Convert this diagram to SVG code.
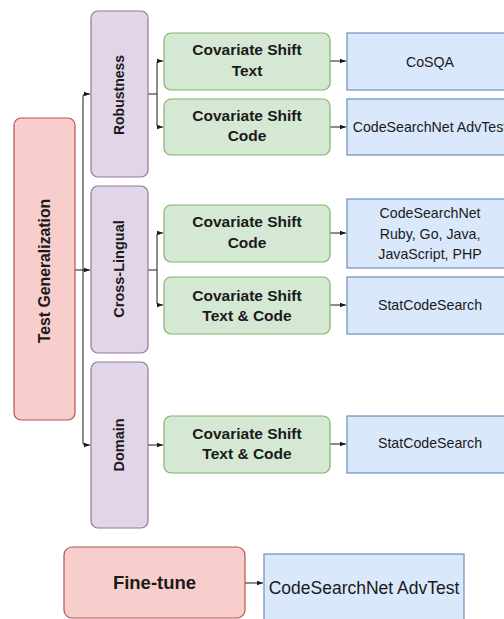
<svg xmlns="http://www.w3.org/2000/svg" width="504" height="619" viewBox="0 0 504 619">
<style>
text{font-family:"Liberation Sans",Arial,sans-serif;fill:#1a1a1a;text-anchor:middle}
.b{font-weight:bold;font-size:15.5px}
.v{font-weight:bold;font-size:14.5px}
.r{font-size:14.2px}
.red{fill:#f8cecc;stroke:#b85450;stroke-width:1.2}
.pur{fill:#e1d5e7;stroke:#9673a6;stroke-width:1.2}
.grn{fill:#d5e8d4;stroke:#82b366;stroke-width:1.2}
.blu{fill:#dae8fc;stroke:#6c8ebf;stroke-width:1.2}
.c{fill:none;stroke:#1a1a1a;stroke-width:1}
</style>
<defs>
<marker id="ah" viewBox="0 0 6 6" refX="6" refY="3" markerWidth="6" markerHeight="6" markerUnits="userSpaceOnUse" orient="auto">
<path d="M0,0.8 L6,3 L0,5.2 Z" fill="#1a1a1a"/>
</marker>
</defs>
<rect width="504" height="619" fill="#ffffff"/>
<g id="connectors">
<path class="c" d="M75,270 H90" marker-end="url(#ah)"/>
<path class="c" d="M83,270 V96 Q83,94 85,94 H90" marker-end="url(#ah)"/>
<path class="c" d="M83,270 V443 Q83,445 85,445 H90" marker-end="url(#ah)"/>
<path class="c" d="M148,94 H157"/>
<path class="c" d="M157,94 V63 Q157,61 159,61 H163" marker-end="url(#ah)"/>
<path class="c" d="M157,94 V125 Q157,127 159,127 H163" marker-end="url(#ah)"/>
<path class="c" d="M148,270 H157"/>
<path class="c" d="M157,270 V235 Q157,233 159,233 H163" marker-end="url(#ah)"/>
<path class="c" d="M157,270 V303 Q157,305 159,305 H163" marker-end="url(#ah)"/>
<path class="c" d="M148,445 H163" marker-end="url(#ah)"/>
<path class="c" d="M330,61 H346" marker-end="url(#ah)"/>
<path class="c" d="M330,127 H346" marker-end="url(#ah)"/>
<path class="c" d="M330,233 H346" marker-end="url(#ah)"/>
<path class="c" d="M330,305 H346" marker-end="url(#ah)"/>
<path class="c" d="M330,444 H346" marker-end="url(#ah)"/>
<path class="c" d="M245,583 H263" marker-end="url(#ah)"/>
</g>
<g id="test-generalization">
<rect class="red" x="14" y="118" width="61" height="302" rx="7"/>
<text class="v" transform="translate(49.5,271) rotate(-90)" style="font-size:15.8px">Test Generalization</text>
</g>
<g id="robustness">
<rect class="pur" x="91" y="11" width="57" height="166" rx="7"/>
<text class="v" transform="translate(124,95) rotate(-90)" style="font-size:14px">Robustness</text>
</g>
<g id="cross-lingual">
<rect class="pur" x="91" y="186" width="57" height="167" rx="7"/>
<text class="v" transform="translate(124,269) rotate(-90)">Cross-Lingual</text>
</g>
<g id="domain">
<rect class="pur" x="91" y="362" width="57" height="166" rx="7"/>
<text class="v" transform="translate(124,445) rotate(-90)">Domain</text>
</g>
<g id="cs-text">
<rect class="grn" x="164" y="33" width="166" height="57" rx="7"/>
<text class="b" x="247" y="55">Covariate Shift</text>
<text class="b" x="247" y="76">Text</text>
</g>
<g id="cs-code-1">
<rect class="grn" x="164" y="99" width="166" height="56" rx="7"/>
<text class="b" x="247" y="121">Covariate Shift</text>
<text class="b" x="247" y="141">Code</text>
</g>
<g id="cs-code-2">
<rect class="grn" x="164" y="205" width="166" height="57" rx="7"/>
<text class="b" x="247" y="227">Covariate Shift</text>
<text class="b" x="247" y="248">Code</text>
</g>
<g id="cs-textcode-1">
<rect class="grn" x="164" y="277" width="166" height="57" rx="7"/>
<text class="b" x="247" y="301">Covariate Shift</text>
<text class="b" x="247" y="321">Text &amp; Code</text>
</g>
<g id="cs-textcode-2">
<rect class="grn" x="164" y="416" width="166" height="57" rx="7"/>
<text class="b" x="247" y="439">Covariate Shift</text>
<text class="b" x="247" y="459">Text &amp; Code</text>
</g>
<g id="cosqa">
<rect class="blu" x="347" y="33" width="166" height="57"/>
<text class="r" x="430" y="67">CoSQA</text>
</g>
<g id="csn-advtest-1">
<rect class="blu" x="347" y="99" width="166" height="56"/>
<text class="r" x="430" y="132">CodeSearchNet AdvTest</text>
</g>
<g id="csn-langs">
<rect class="blu" x="347" y="199" width="166" height="69"/>
<text class="r" x="430" y="218">CodeSearchNet</text>
<text class="r" x="430" y="239">Ruby, Go, Java,</text>
<text class="r" x="430" y="259">JavaScript, PHP</text>
</g>
<g id="statcodesearch-1">
<rect class="blu" x="347" y="277" width="166" height="57"/>
<text class="r" x="430" y="310">StatCodeSearch</text>
</g>
<g id="statcodesearch-2">
<rect class="blu" x="347" y="416" width="166" height="57"/>
<text class="r" x="430" y="448">StatCodeSearch</text>
</g>
<g id="fine-tune">
<rect class="red" x="64" y="547" width="181" height="71" rx="8"/>
<text class="b" x="154.5" y="589" style="font-size:18.5px">Fine-tune</text>
</g>
<g id="csn-advtest-2">
<rect class="blu" x="264" y="554" width="200" height="80"/>
<text class="r" x="364" y="594" style="font-size:17.5px">CodeSearchNet AdvTest</text>
</g>
</svg>
